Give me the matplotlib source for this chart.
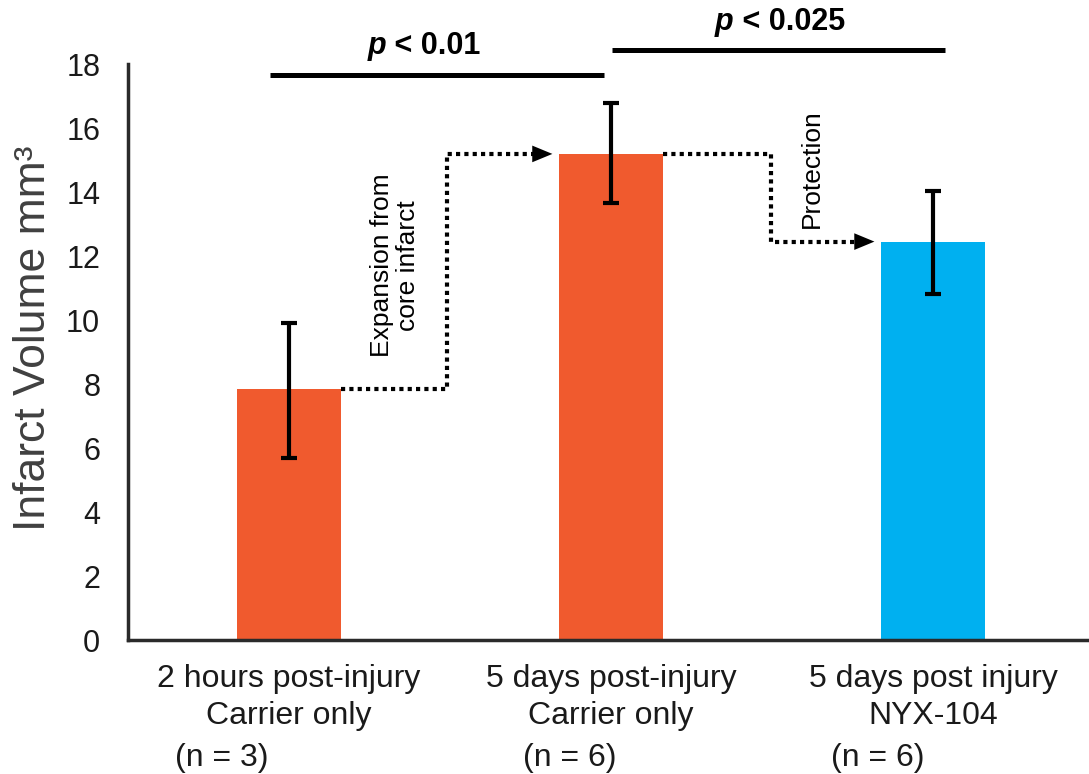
import numpy as np
import matplotlib; matplotlib.use("Agg")
import matplotlib.pyplot as plt
import matplotlib.transforms as mtrans

plt.rcParams["font.family"] = ["Liberation Sans", "DejaVu Sans"]

groups  = ["2 hours post-injury\nCarrier only", "5 days post-injury\nCarrier only", "5 days post injury\nNYX-104"]
n_lbl   = ["(n = 3)", "(n = 6)", "(n = 6)"]
volume  = [7.83, 15.19, 12.45]
err_hi  = [2.07, 1.59, 1.59]
err_lo  = [2.13, 1.53, 1.63]
colors  = ["#F05A2E", "#F05A2E", "#00B0F0"]

fig = plt.figure(figsize=(10.89, 7.74), dpi=100)
ax = fig.add_axes([128/1089, 134/774, 959/1089, 576/774])
x = np.arange(len(groups))
W = 0.323
ax.bar(x, volume, width=W, color=colors, zorder=2)
ax.errorbar(x, volume, yerr=[err_lo, err_hi], fmt="none", ecolor="black",
            elinewidth=3, capsize=6, capthick=3, zorder=3)

ax.set_xlim(-0.5, 2.478); ax.set_ylim(0, 18)
ax.set_yticks(range(0, 19, 2))
ax.set_xticks(x); ax.set_xticklabels(groups, fontsize=23, color="#1a1a1a", linespacing=1.3)
ax.tick_params(axis="y", length=0, pad=20, labelsize=22, labelcolor="#1a1a1a")
ax.tick_params(axis="x", length=0, pad=17)
ax.set_ylabel("Infarct Volume mm\u00b3", fontsize=32, color="#404040")
ax.yaxis.set_label_coords(-0.077, 0.524)
for s in ["top", "right"]: ax.spines[s].set_visible(False)
for s in ["left", "bottom"]:
    ax.spines[s].set_linewidth(2.5); ax.spines[s].set_color("#2a2a2a")

tr = mtrans.blended_transform_factory(ax.transData, ax.transAxes)
for xi, dx, t in zip(x, [-0.208, -0.127, -0.171], n_lbl):
    ax.text(xi + dx, -0.204, t, transform=tr, fontsize=23, ha="center", va="center", color="#1a1a1a")

# significance bars
ax.plot([-0.059, 0.978], [17.65, 17.65], color="black", lw=3.6, clip_on=False, solid_capstyle="butt")
ax.plot([1.003, 2.037], [18.43, 18.43], color="black", lw=3.6, clip_on=False, solid_capstyle="butt")
for xc, yc, rest in [(0.42, 18.55, " < 0.01"), (1.525, 19.3, " < 0.025")]:
    t = ax.text(xc, yc, "p" + rest, fontsize=22, fontweight="bold", ha="center", va="center", clip_on=False, alpha=0)
    fig.canvas.draw()
    bb = t.get_window_extent().transformed(ax.transData.inverted())
    tp = ax.text(bb.x0, yc, "p", fontsize=22, fontweight="bold", fontstyle="italic", ha="left", va="center", clip_on=False)
    bp = tp.get_window_extent(fig.canvas.get_renderer()).transformed(ax.transData.inverted())
    ax.text(bp.x1, yc, rest, fontsize=22, fontweight="bold", ha="left", va="center", clip_on=False)

# dotted step arrows
h = W/2
def step(x0, y0, xm, y1, x1):
    ax.plot([x0, xm, xm, x1 - 0.06], [y0, y0, y1, y1], color="black", lw=3,
            dashes=(1, 1), zorder=4)
    ax.annotate("", xy=(x1 - 0.012, y1), xytext=(x1 - 0.08, y1),
                arrowprops=dict(arrowstyle="-|>,head_length=1.45,head_width=0.6", color="black", lw=0), zorder=4)
step(0 + h, volume[0], 0.491, volume[1], 1 - h)
step(1 + h, volume[1], 1.498, volume[2], 2 - h)

ax.text(0.33, 11.7, "Expansion from\ncore infarct", rotation=90, fontsize=19, ha="center", va="center", linespacing=1.1)
ax.text(1.624, 14.72, "Protection", rotation=90, fontsize=19, ha="center", va="center")

fig.savefig("out.png", dpi=100)
